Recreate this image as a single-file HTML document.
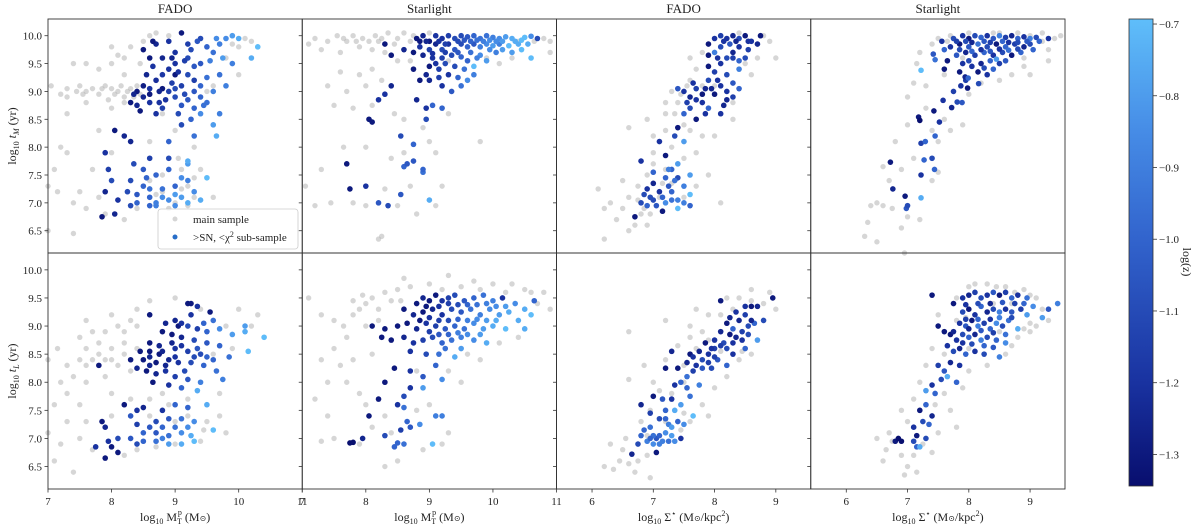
<!DOCTYPE html>
<html><head><meta charset="utf-8"><style>
body{margin:0;background:#fff;}
svg text{font-family:"Liberation Serif","DejaVu Serif",serif;fill:#222;}
</style></head><body>
<svg id="chart" width="1200" height="526" viewBox="0 0 1200 526" xmlns="http://www.w3.org/2000/svg" font-family="Liberation Serif, DejaVu Serif, serif">
<defs><linearGradient id="cbg" x1="0" y1="1" x2="0" y2="0">
<stop offset="0" stop-color="rgb(8,14,110)"/><stop offset="0.22" stop-color="rgb(25,50,160)"/><stop offset="0.53" stop-color="rgb(50,100,205)"/><stop offset="0.76" stop-color="rgb(70,140,230)"/><stop offset="1" stop-color="rgb(95,190,250)"/></linearGradient></defs>
<g id="panels"></g>
<g>
<rect x="1129" y="19" width="24" height="467" fill="url(#cbg)" stroke="#333" stroke-width="0.8"/>
<g id="cbticks"></g>
<text transform="translate(1183,262) rotate(90)" font-size="12" text-anchor="middle">log(z)</text>
</g>
</svg>
<script>
const colTitles=["FADO","Starlight","FADO","Starlight"];
const yTicks=[6.5,7.0,7.5,8.0,8.5,9.0,9.5,10.0];
const xTicksMass=[7,8,9,10,11];
const xTicksSigma=[6,7,8,9];
const cbTicks=[-0.7,-0.8,-0.9,-1.0,-1.1,-1.2,-1.3];

const p1Gray=[[7.05,9.1],[7.2,8.95],[7.3,9.05],[7.5,9.1],[7.6,9.0],[7.7,9.05],[7.8,8.95],[7.9,9.1],[8.0,9.05],[8.1,9.0],[8.2,8.9],[8.3,9.05],[8.4,9.1],[7.6,9.5],[7.8,9.4],[8.0,9.5],[8.2,9.6],[8.3,9.8],[8.5,9.9],[8.7,10.05],[8.0,9.8],[7.4,9.5],[7.3,8.6],[7.6,8.8],[8.0,8.7],[8.2,8.8],[7.2,8.0],[7.1,7.6],[7.0,7.3],[7.3,7.9],[7.5,7.2],[7.4,7.0],[7.6,6.9],[7.8,7.1],[7.9,6.8],[8.2,6.7],[8.4,6.9],[8.6,7.4],[8.8,7.2],[9.0,7.0],[9.2,7.3],[9.4,7.6],[9.6,7.1],[7.0,6.5],[7.4,6.45],[9.3,8.0],[9.0,8.3],[8.8,8.6],[9.8,9.6],[10.0,9.8],[10.2,9.9],[9.9,10.0],[10.0,9.3],[9.6,9.1],[7.15,7.2],[7.7,7.6],[8.0,7.9],[8.6,8.1],[9.1,7.6],[9.5,9.0],[8.2,9.3],[7.8,8.3],[7.3,8.9],[7.45,9.0],[7.55,8.95],[7.85,9.05],[8.05,8.95],[8.15,9.1],[8.25,9.0],[8.35,8.9],[7.95,8.85],[8.45,8.95],[8.45,9.5],[8.1,9.65],[8.6,10.0],[8.9,10.0],[9.9,9.85],[10.1,9.95],[9.2,6.95],[8.9,6.9],[9.3,7.1],[8.7,7.15],[9.1,7.25],[9.3,7.45],[8.8,7.5],[9.05,7.8]];
const p1Blue=[[8.5,9.75,-1.3],[8.7,9.85,-1.25],[8.6,9.6,-1.3],[8.4,9.0,-1.3],[8.5,9.1,-1.28],[8.3,8.8,-1.3],[8.4,8.75,-1.25],[8.6,8.8,-1.2],[8.6,9.05,-1.2],[8.7,9.2,-1.22],[8.8,9.3,-1.18],[8.9,9.4,-1.2],[9.0,9.5,-1.2],[8.9,9.0,-1.15],[9.0,8.9,-1.1],[8.8,8.7,-1.15],[8.7,8.6,-1.2],[8.5,8.9,-1.25],[9.1,9.1,-1.15],[9.2,9.3,-1.1],[9.3,9.0,-1.05],[9.4,8.9,-1.0],[9.1,8.75,-1.05],[9.3,8.7,-1.0],[9.5,8.8,-0.95],[9.6,9.0,-0.9],[9.5,9.25,-0.95],[9.4,9.5,-1.05],[9.2,9.6,-1.1],[9.0,9.7,-1.2],[9.2,9.85,-1.15],[9.4,9.95,-1.1],[9.5,9.8,-1.0],[9.6,9.7,-0.95],[9.7,9.85,-0.9],[9.8,9.95,-0.85],[9.9,10.0,-0.8],[10.0,9.95,-0.75],[10.3,9.8,-0.7],[10.2,9.6,-0.75],[9.9,9.5,-0.9],[9.7,9.3,-0.95],[9.8,9.1,-0.9],[9.1,10.05,-1.3],[8.95,9.6,-1.25],[9.0,9.3,-1.3],[8.8,9.05,-1.3],[9.3,9.2,-1.15],[9.25,8.5,-1.0],[9.3,8.2,-0.95],[9.1,8.4,-1.1],[9.6,8.4,-0.8],[9.4,8.6,-0.85],[9.65,8.2,-0.75],[9.7,8.6,-0.9],[8.9,8.1,-1.0],[8.05,8.3,-1.3],[8.2,8.2,-1.25],[8.3,8.1,-1.25],[7.9,7.9,-1.2],[7.95,7.6,-1.15],[8.0,7.4,-1.1],[7.9,7.2,-1.25],[8.1,7.05,-1.2],[7.85,6.75,-1.3],[8.05,6.8,-1.25],[8.3,6.95,-1.1],[8.4,7.0,-1.0],[8.6,7.1,-1.0],[8.7,7.0,-0.9],[8.9,7.05,-0.85],[9.1,7.1,-0.8],[9.2,7.0,-0.75],[9.4,7.05,-0.75],[8.8,7.25,-0.95],[9.0,7.3,-1.0],[9.2,7.4,-0.9],[9.5,7.45,-0.7],[8.5,7.6,-1.05],[8.7,7.5,-1.0],[8.9,7.6,-1.0],[8.6,7.8,-1.15],[8.9,7.8,-1.1],[9.2,7.7,-0.8],[8.3,7.4,-1.1],[8.5,7.3,-1.0],[9.3,7.2,-0.85],[9.0,6.95,-0.85],[8.6,6.95,-1.0],[9.2,7.75,-0.75],[8.55,9.3,-1.25],[8.65,9.45,-1.2],[8.75,9.0,-1.25],[8.85,8.85,-1.2],[8.95,9.15,-1.15],[9.05,9.35,-1.2],[9.15,9.55,-1.15],[9.25,9.75,-1.1],[9.35,9.9,-1.05],[9.15,8.95,-1.1],[9.2,8.85,-1.05],[9.4,9.1,-1.0],[9.45,8.75,-0.95],[9.55,9.55,-0.9],[9.65,9.95,-0.85],[9.75,9.6,-0.8],[8.45,8.65,-1.3],[8.35,8.95,-1.25],[8.6,8.95,-1.3],[8.75,8.8,-1.2],[9.0,9.05,-1.1],[8.8,9.6,-1.25],[8.65,9.9,-1.3],[8.9,9.9,-1.2],[9.3,9.45,-1.05],[9.05,8.6,-1.1],[8.4,7.15,-1.05],[8.6,7.25,-0.95],[8.8,7.1,-0.85],[9.0,7.15,-0.8],[8.7,6.95,-0.9],[8.25,7.2,-1.1],[8.55,7.45,-1.0],[8.35,7.7,-1.1],[9.1,7.45,-0.85]];
const p2Gray=[[7.2,9.95],[7.4,9.9],[7.55,10.0],[7.7,9.9],[7.8,10.0],[7.95,9.95],[8.05,9.9],[8.15,10.0],[8.25,9.95],[8.35,10.05],[8.5,9.95],[8.6,10.05],[8.7,9.9],[7.1,9.85],[7.3,9.75],[7.6,9.7],[7.9,9.8],[8.1,9.75],[8.3,9.7],[8.5,9.55],[8.7,9.55],[9.0,10.05],[9.6,9.55],[9.9,9.6],[10.4,9.9],[10.8,9.95],[10.9,9.9],[10.1,9.5],[7.6,9.35],[7.9,9.3],[8.1,9.4],[7.4,9.1],[7.7,9.0],[8.0,9.1],[8.25,9.2],[7.5,8.75],[7.8,8.7],[8.1,8.75],[8.45,8.6],[8.6,8.5],[8.9,8.35],[9.3,8.6],[9.8,8.1],[8.0,8.0],[7.3,7.6],[7.65,8.0],[8.4,7.8],[8.6,7.9],[9.1,7.9],[9.2,7.3],[9.1,6.95],[7.2,6.95],[7.45,7.0],[7.8,7.0],[8.0,6.95],[8.3,7.25],[8.5,6.95],[8.8,6.8],[8.2,6.35],[8.25,6.4],[7.05,7.3],[9.0,8.1],[8.7,7.3],[8.45,9.85],[8.75,10.0],[8.2,9.9],[7.85,9.9],[7.65,9.95],[10.65,9.9],[10.9,9.7],[9.3,9.55],[10.3,9.6]];
const p2Blue=[[8.8,9.95,-1.3],[8.9,10.0,-1.25],[9.0,9.9,-1.3],[9.1,10.0,-1.2],[9.2,9.95,-1.2],[9.3,10.0,-1.15],[9.4,9.95,-1.1],[9.5,10.0,-1.1],[9.6,9.98,-1.05],[9.7,10.0,-1.0],[9.8,9.95,-0.95],[9.9,10.0,-0.95],[10.0,9.97,-0.9],[10.1,9.95,-0.85],[10.2,9.98,-0.8],[10.3,9.95,-0.75],[10.5,9.97,-0.7],[10.6,9.99,-0.85],[10.7,9.95,-1.1],[8.85,9.8,-1.2],[9.0,9.75,-1.15],[9.1,9.85,-1.25],[9.2,9.75,-1.1],[9.3,9.85,-1.2],[9.4,9.75,-1.05],[9.5,9.85,-1.1],[9.6,9.8,-1.0],[9.7,9.85,-1.05],[9.8,9.8,-0.9],[9.9,9.85,-0.85],[10.0,9.82,-0.8],[10.1,9.85,-0.9],[10.25,9.82,-0.7],[10.4,9.85,-0.75],[8.9,9.65,-1.25],[9.05,9.6,-1.2],[9.2,9.6,-1.15],[9.35,9.65,-1.1],[9.5,9.62,-1.0],[9.65,9.7,-0.95],[9.8,9.65,-0.85],[10.05,9.7,-0.9],[10.3,9.7,-0.8],[10.6,9.6,-0.7],[9.0,9.45,-1.3],[9.15,9.4,-1.15],[9.4,9.45,-1.1],[9.55,9.4,-0.95],[9.7,9.45,-0.7],[9.9,9.55,-0.8],[9.3,9.3,-1.2],[9.45,9.25,-1.0],[9.7,9.3,-0.9],[8.75,9.4,-1.3],[8.85,9.2,-1.3],[9.0,9.2,-1.25],[9.2,9.1,-1.2],[9.35,9.0,-1.05],[9.5,9.1,-0.95],[8.3,9.85,-1.3],[8.4,9.65,-1.3],[8.6,9.75,-1.25],[8.4,9.1,-1.25],[8.3,8.95,-1.2],[8.2,8.85,-1.2],[9.2,8.7,-1.0],[8.8,8.85,-1.25],[8.95,8.7,-1.2],[9.05,8.75,-1.0],[8.95,8.5,-1.1],[8.05,8.5,-1.3],[8.1,8.45,-1.3],[8.55,8.2,-1.1],[8.75,8.05,-1.0],[8.75,7.75,-1.05],[8.6,7.65,-1.0],[8.65,7.7,-1.05],[8.9,7.55,-0.95],[8.9,7.6,-1.0],[7.7,7.7,-1.3],[7.75,7.25,-1.3],[8.0,7.3,-1.2],[8.2,7.0,-1.05],[8.35,6.95,-1.1],[8.55,7.15,-1.05],[9.0,7.05,-0.75],[8.95,9.9,-1.25],[9.15,9.9,-1.2],[9.25,9.85,-1.15],[9.45,9.9,-1.1],[9.55,9.92,-1.05],[9.65,9.9,-1.0],[9.75,9.92,-0.95],[9.85,9.9,-0.9],[9.95,9.92,-0.85],[10.05,9.9,-0.85],[10.15,9.9,-0.8],[10.35,9.9,-0.75],[10.45,9.92,-0.7],[9.05,9.68,-1.2],[9.25,9.7,-1.15],[9.45,9.7,-1.05],[9.6,9.55,-1.0],[9.75,9.6,-0.9],[9.95,9.75,-0.85],[10.15,9.75,-0.8],[10.45,9.75,-0.7],[9.1,9.5,-1.2],[9.25,9.5,-1.1],[8.95,9.3,-1.25],[9.15,9.25,-1.15],[9.6,9.2,-0.85],[8.75,9.7,-1.3],[8.85,9.9,-1.3],[10.55,9.85,-0.75]];
const p3Gray=[[6.2,6.35],[6.4,6.7],[6.5,6.9],[6.6,6.5],[6.7,6.6],[6.8,6.8],[6.9,6.6],[6.3,7.0],[6.6,7.1],[6.75,7.3],[6.9,7.5],[7.0,7.7],[7.2,7.6],[7.3,7.35],[7.1,7.1],[6.85,6.9],[7.5,7.8],[7.7,7.9],[7.8,8.2],[7.3,8.0],[7.0,8.2],[6.6,8.35],[6.9,8.5],[7.2,8.3],[7.5,8.4],[7.2,8.8],[7.4,8.8],[7.3,9.0],[7.6,9.2],[7.8,9.1],[7.6,8.3],[8.3,8.8],[8.6,9.3],[8.5,9.5],[8.7,9.6],[8.9,9.9],[8.8,10.0],[7.7,9.4],[7.8,9.7],[7.6,9.6],[8.0,9.1],[8.3,8.5],[8.0,8.2],[6.5,7.4],[6.2,6.9],[8.4,10.05],[9.0,9.6],[7.9,7.5],[8.1,7.0],[6.1,7.25],[7.45,8.95],[7.55,9.1],[7.35,8.6],[7.2,8.6],[7.0,7.9],[6.75,7.05],[6.95,6.8],[7.5,7.1],[7.7,7.3],[7.15,7.35]];
const p3Blue=[[7.9,9.85,-1.3],[8.0,9.95,-1.2],[8.1,10.0,-1.15],[8.2,9.95,-1.2],[8.3,10.0,-1.25],[8.4,9.95,-1.1],[8.5,10.0,-1.3],[8.6,9.9,-1.2],[8.75,10.0,-1.3],[8.1,9.8,-1.1],[8.25,9.85,-1.05],[8.4,9.8,-1.2],[8.55,9.75,-1.15],[8.3,9.7,-1.25],[8.0,9.7,-0.9],[8.2,9.6,-1.1],[8.4,9.55,-1.0],[8.1,9.5,-1.2],[7.9,9.45,-1.3],[7.9,9.65,-1.3],[8.0,9.35,-1.15],[8.2,9.3,-1.1],[8.4,9.4,-0.9],[8.3,9.15,-1.05],[8.1,9.1,-1.2],[7.9,9.2,-1.1],[7.7,9.05,-1.15],[7.5,9.0,-1.2],[7.4,9.05,-1.05],[7.6,8.9,-1.25],[7.8,8.95,-1.3],[8.0,8.95,-1.3],[7.95,9.05,-1.25],[8.2,9.0,-1.2],[8.4,9.05,-1.0],[7.8,8.8,-1.2],[7.6,8.7,-1.1],[7.9,8.7,-1.0],[8.1,8.6,-1.2],[7.7,8.5,-1.3],[7.5,8.6,-1.0],[8.2,8.85,-1.25],[7.35,8.2,-1.1],[7.5,8.1,-0.8],[7.4,8.35,-1.3],[7.1,8.1,-1.2],[7.2,7.85,-1.3],[7.3,7.6,-1.0],[7.4,7.7,-0.8],[7.2,7.45,-1.0],[7.4,7.45,-1.1],[7.6,7.5,-0.8],[7.5,7.3,-0.9],[7.1,7.2,-1.2],[7.3,7.2,-1.0],[7.0,7.35,-1.25],[6.9,7.25,-1.2],[7.0,7.05,-1.1],[7.2,7.0,-0.85],[7.4,7.05,-0.9],[6.9,6.95,-1.0],[6.8,7.0,-1.1],[7.05,6.95,-1.05],[7.15,6.85,-1.3],[6.7,6.75,-1.3],[7.6,6.95,-1.0],[7.4,6.9,-0.7],[7.6,7.15,-0.7],[6.8,7.75,-1.2],[7.0,7.55,-1.0],[8.15,9.9,-1.2],[8.35,9.9,-1.25],[8.55,9.9,-1.2],[8.7,9.85,-1.25],[8.3,9.6,-1.15],[8.5,9.6,-1.1],[8.05,9.6,-1.2],[7.85,9.05,-1.25],[8.05,9.2,-1.2],[7.7,8.85,-1.2],[7.55,8.8,-1.15],[8.15,8.75,-1.25],[7.85,8.6,-1.2],[8.3,8.9,-1.15],[7.65,9.15,-1.2],[7.25,7.3,-1.05],[7.15,7.1,-1.0],[6.95,7.1,-1.1],[7.3,7.05,-0.95],[7.5,7.0,-0.9],[7.35,7.4,-0.95],[7.25,7.6,-0.9],[6.85,7.15,-1.1]];
const p4Gray=[[7.5,9.95],[7.7,10.0],[8.0,10.05],[8.5,10.05],[9.0,10.0],[9.2,9.9],[9.4,9.95],[9.3,9.55],[8.9,9.45],[8.7,9.3],[8.5,9.2],[7.4,9.85],[7.2,9.7],[7.6,9.3],[7.3,9.1],[7.1,9.15],[7.0,8.9],[7.3,8.7],[7.6,8.5],[7.7,8.3],[7.9,8.4],[7.5,8.1],[7.4,8.3],[7.0,8.4],[7.1,7.8],[6.8,8.1],[6.9,7.6],[7.4,7.4],[7.5,7.55],[6.7,7.4],[6.5,7.0],[6.6,6.95],[6.35,6.65],[6.5,6.3],[6.9,6.55],[7.0,6.75],[7.2,6.7],[6.75,6.9],[6.4,6.95],[6.6,7.65],[7.15,9.5],[8.2,9.15],[8.0,8.95],[9.0,9.3],[7.9,9.6],[6.95,6.1],[6.3,6.4],[7.65,9.9],[8.4,10.05],[8.8,10.05],[9.2,10.05],[9.5,10.0],[9.3,9.75],[8.9,9.6]];
const p4Blue=[[7.75,9.95,-1.1],[7.9,10.0,-1.2],[8.0,9.95,-1.3],[8.1,10.0,-1.1],[8.2,9.97,-1.0],[8.3,10.0,-1.2],[8.4,9.95,-1.05],[8.5,10.0,-0.9],[8.6,9.97,-1.15],[8.7,10.0,-1.25],[8.8,9.95,-1.0],[8.9,9.98,-1.2],[9.0,9.95,-0.9],[9.1,9.97,-1.1],[9.3,9.95,-1.2],[7.7,9.8,-1.2],[7.85,9.85,-1.3],[8.0,9.8,-1.05],[8.15,9.85,-0.95],[8.3,9.8,-1.1],[8.45,9.85,-1.3],[8.6,9.8,-1.0],[8.75,9.85,-1.15],[8.9,9.8,-1.25],[9.0,9.85,-1.1],[7.8,9.65,-1.05],[7.95,9.7,-1.25],[8.1,9.65,-1.15],[8.25,9.7,-1.0],[8.4,9.65,-1.2],[8.55,9.7,-1.1],[8.7,9.65,-1.3],[8.85,9.7,-1.0],[7.6,9.75,-1.0],[7.65,9.55,-1.3],[7.9,9.5,-1.2],[8.0,9.55,-1.1],[8.2,9.5,-1.25],[8.35,9.55,-1.0],[8.5,9.5,-1.15],[8.15,9.35,-1.3],[8.3,9.3,-1.2],[8.4,9.4,-1.0],[7.85,9.35,-1.3],[7.95,9.2,-1.15],[7.58,8.84,-1.2],[7.72,8.71,-1.25],[7.81,8.81,-1.1],[7.89,8.8,-1.05],[7.75,9.0,-1.15],[7.87,9.1,-1.2],[7.98,9.06,-1.3],[7.94,9.26,-1.25],[7.99,9.24,-1.0],[8.16,9.14,-1.1],[7.6,9.4,-1.3],[7.42,9.67,-1.05],[7.45,9.57,-0.95],[7.56,9.9,-1.2],[7.22,9.38,-0.7],[7.43,8.65,-1.3],[7.52,8.45,-1.2],[7.18,8.54,-1.3],[7.2,8.48,-1.34],[7.45,8.2,-1.0],[7.22,8.07,-1.15],[7.29,8.1,-1.0],[7.27,7.77,-1.0],[7.4,7.8,-1.1],[7.22,7.5,-1.2],[7.44,7.6,-1.0],[6.72,7.73,-1.3],[6.76,7.25,-1.25],[6.96,7.12,-1.3],[7.22,7.09,-0.75],[6.98,6.9,-1.05],[7.0,6.95,-1.1],[7.8,9.9,-1.15],[7.95,9.9,-1.1],[8.05,9.88,-1.25],[8.25,9.9,-1.05],[8.35,9.88,-1.15],[8.55,9.9,-1.0],[8.65,9.88,-1.2],[8.8,9.88,-1.1],[8.95,9.9,-1.05],[9.15,9.9,-1.0],[7.85,9.75,-1.1],[8.05,9.72,-1.0],[8.2,9.75,-1.2],[8.35,9.72,-1.05],[8.5,9.76,-1.2],[8.65,9.74,-0.95],[8.8,9.76,-1.1],[9.05,9.75,-1.0],[8.05,9.45,-1.2],[8.25,9.42,-1.1],[8.45,9.58,-0.8],[8.6,9.55,-1.05]];
const p5Gray=[[7.0,7.1],[7.1,6.6],[7.2,6.9],[7.3,7.3],[7.1,7.6],[7.3,7.8],[7.5,7.6],[7.2,8.0],[7.4,8.1],[7.6,8.0],[7.3,8.3],[7.5,8.4],[7.7,8.4],[7.9,8.4],[7.6,8.6],[7.8,8.7],[8.0,8.6],[7.5,8.8],[7.7,8.9],[7.9,8.9],[8.1,9.0],[8.2,8.9],[8.3,9.1],[7.6,9.1],[8.0,9.2],[8.4,9.3],[8.6,9.45],[9.0,9.5],[9.4,9.3],[9.8,9.0],[10.0,9.3],[10.2,9.0],[10.3,9.2],[9.9,8.6],[9.6,8.5],[8.2,8.5],[8.3,8.2],[8.1,8.3],[7.9,8.1],[8.0,7.8],[8.3,7.7],[8.6,7.7],[9.2,7.7],[9.5,7.3],[9.7,7.4],[9.4,6.95],[9.0,6.9],[8.7,6.85],[8.4,6.8],[8.2,6.7],[7.7,6.8],[7.5,7.0],[7.4,6.4],[7.6,7.3],[8.0,7.4],[9.8,7.1],[7.15,8.6],[7.0,8.4],[9.7,7.8],[8.8,7.8],[8.0,8.4],[8.2,8.7],[7.8,8.5],[8.4,8.6],[8.4,9.0],[7.6,8.3],[8.9,7.6],[9.2,7.4],[8.6,7.4],[9.0,7.3],[9.45,7.15]];
const p5Blue=[[9.2,9.4,-1.3],[9.25,9.4,-1.3],[9.35,9.35,-1.2],[9.55,9.25,-1.3],[8.6,9.2,-1.3],[9.0,9.1,-1.25],[9.05,9.0,-1.3],[9.1,9.05,-1.2],[9.2,9.0,-1.1],[9.35,8.95,-1.15],[9.5,8.9,-1.0],[9.7,8.95,-0.85],[9.9,8.85,-0.8],[10.1,8.9,-0.75],[10.4,8.8,-0.7],[10.15,8.55,-0.7],[8.8,8.9,-1.3],[8.95,8.85,-1.3],[9.1,8.8,-1.25],[9.3,8.75,-1.1],[9.5,8.7,-1.05],[9.7,8.65,-1.0],[9.85,8.45,-0.95],[8.6,8.7,-1.3],[8.75,8.65,-1.25],[9.0,8.6,-1.2],[9.2,8.55,-1.15],[9.4,8.5,-1.1],[9.6,8.4,-1.0],[8.5,8.4,-1.3],[8.6,8.45,-1.25],[8.75,8.5,-1.3],[8.9,8.4,-1.25],[9.05,8.35,-1.2],[9.25,8.35,-1.1],[9.45,8.3,-1.0],[9.65,8.2,-0.95],[8.4,8.25,-1.25],[8.55,8.2,-1.3],[8.7,8.15,-1.25],[8.85,8.2,-1.2],[9.0,8.1,-1.15],[9.2,8.05,-1.05],[9.4,8.0,-0.9],[8.65,8.0,-1.3],[8.9,7.95,-1.2],[9.1,7.9,-1.0],[9.35,7.85,-0.75],[9.5,7.6,-0.75],[7.8,8.3,-1.3],[8.3,8.4,-1.3],[9.75,8.05,-0.9],[9.6,9.1,-0.95],[10.1,9.0,-0.8],[8.2,7.6,-1.3],[8.4,7.5,-1.2],[8.5,7.55,-1.25],[8.8,7.5,-1.2],[9.0,7.6,-1.0],[9.2,7.55,-1.0],[8.7,7.3,-1.1],[8.9,7.35,-1.05],[9.1,7.35,-0.95],[9.3,7.3,-0.85],[9.6,7.15,-0.7],[7.85,7.3,-1.3],[7.9,7.2,-1.25],[8.4,7.25,-1.15],[8.5,7.1,-1.0],[8.7,7.1,-1.05],[8.9,7.05,-0.95],[9.1,7.1,-0.85],[9.25,7.05,-0.75],[7.95,6.95,-1.2],[8.1,7.0,-1.1],[8.3,7.0,-1.05],[8.5,6.95,-1.0],[8.7,6.95,-0.95],[8.9,6.9,-0.8],[9.1,6.9,-0.75],[7.9,6.65,-1.3],[8.1,6.75,-1.3],[7.75,6.85,-1.2],[8.0,6.85,-1.3],[9.3,6.95,-0.7],[8.3,7.4,-1.05],[8.7,8.35,-1.3],[8.8,8.55,-1.25],[8.85,8.3,-1.25],[9.0,8.45,-1.2],[9.1,8.65,-1.2],[9.15,8.2,-1.1],[9.3,8.45,-1.1],[8.95,8.7,-1.25],[9.35,8.6,-1.05],[9.5,8.45,-1.0],[8.6,8.55,-1.3],[8.45,8.55,-1.3],[8.6,8.3,-1.25],[9.25,9.2,-1.2],[9.45,9.05,-1.0],[8.85,9.05,-1.25],[9.0,7.2,-0.95],[8.6,7.2,-1.05],[8.8,7.2,-1.0],[8.4,6.9,-1.1],[9.2,7.2,-0.85],[8.8,7.0,-0.9]];
const p6Gray=[[7.1,9.5],[7.3,9.2],[7.5,9.1],[7.65,9.0],[7.8,9.2],[7.9,9.3],[8.0,9.4],[8.1,9.5],[8.3,9.6],[8.5,9.65],[8.7,9.7],[9.0,9.75],[9.5,9.7],[9.8,9.65],[10.2,9.6],[10.5,9.65],[10.8,9.6],[10.9,9.3],[10.6,9.6],[8.2,9.3],[8.4,9.45],[8.0,9.0],[7.7,8.8],[7.5,8.6],[7.3,8.4],[7.6,8.3],[7.8,8.4],[8.1,8.5],[7.4,8.0],[7.7,8.0],[7.9,7.8],[7.2,7.7],[7.4,7.4],[8.0,7.6],[8.3,7.4],[8.1,7.2],[8.4,7.1],[8.8,7.5],[9.0,7.6],[9.3,7.1],[9.2,6.9],[8.9,6.8],[8.5,6.6],[8.3,6.5],[7.9,6.9],[7.5,7.0],[7.3,6.95],[9.5,8.0],[9.8,8.4],[10.1,8.7],[10.4,8.8],[9.6,8.5],[8.6,9.85],[9.3,9.9],[10.0,9.75],[7.95,9.55],[8.8,8.2],[9.3,8.2],[9.2,9.65],[9.7,9.8],[10.3,9.75],[10.7,9.4],[8.55,9.45],[8.2,9.1],[7.8,9.45]];
const p6Blue=[[8.8,9.4,-1.3],[8.9,9.5,-1.25],[9.0,9.45,-1.3],[9.1,9.55,-1.3],[9.2,9.45,-1.2],[9.3,9.5,-1.15],[9.4,9.55,-1.1],[9.55,9.45,-1.05],[9.7,9.5,-1.0],[9.85,9.55,-0.95],[10.0,9.45,-0.9],[10.15,9.5,-1.2],[10.35,9.4,-0.85],[10.5,9.3,-0.75],[10.6,9.2,-0.7],[10.65,9.45,-1.0],[8.6,9.3,-1.3],[8.75,9.2,-1.25],[8.9,9.25,-1.3],[9.05,9.3,-1.25],[9.2,9.2,-1.2],[9.35,9.3,-1.1],[9.5,9.25,-1.05],[9.65,9.3,-0.95],[9.8,9.2,-0.9],[9.95,9.3,-0.85],[10.1,9.2,-0.8],[10.25,9.25,-0.75],[10.4,9.1,-0.75],[10.5,8.95,-0.75],[8.5,9.0,-1.3],[8.65,9.05,-1.3],[8.8,8.95,-1.25],[8.95,9.05,-1.2],[9.1,9.0,-1.15],[9.25,8.95,-1.05],[9.4,9.0,-1.0],[9.55,8.95,-0.95],[9.7,9.05,-0.85],[9.85,8.95,-0.8],[10.0,9.0,-0.75],[10.2,8.95,-0.7],[8.4,8.75,-1.3],[8.6,8.8,-1.25],[8.75,8.7,-1.2],[8.9,8.75,-1.15],[9.05,8.8,-1.1],[9.2,8.7,-1.0],[9.35,8.75,-0.95],[9.5,8.8,-0.9],[9.7,8.75,-0.85],[9.9,8.7,-0.75],[8.3,8.95,-1.3],[8.1,9.0,-1.3],[8.25,8.8,-1.3],[8.7,8.55,-1.2],[8.95,8.5,-1.1],[9.15,8.5,-0.95],[9.4,8.45,-0.75],[9.1,8.3,-1.0],[8.45,8.25,-1.3],[8.7,8.2,-1.2],[8.9,8.1,-1.05],[8.3,8.0,-1.3],[8.7,7.9,-1.2],[8.9,7.9,-0.8],[9.2,8.05,-0.85],[8.6,7.75,-1.1],[8.5,7.6,-1.2],[8.2,7.7,-1.3],[8.05,7.4,-1.3],[8.6,7.55,-0.95],[8.65,7.3,-1.0],[8.85,7.25,-0.85],[7.95,7.0,-1.25],[8.3,7.05,-1.1],[8.55,7.15,-1.15],[8.5,6.92,-1.0],[8.7,7.2,-1.05],[8.45,6.85,-1.0],[8.6,6.9,-0.95],[7.75,6.92,-1.34],[7.8,6.93,-1.34],[9.05,6.9,-0.7],[9.1,7.4,-0.9],[9.2,7.4,-0.9],[8.95,9.35,-1.3],[9.15,9.35,-1.2],[9.3,9.4,-1.15],[9.45,9.38,-1.1],[9.6,9.38,-1.0],[9.75,9.38,-0.95],[9.9,9.4,-0.9],[10.05,9.35,-0.85],[10.2,9.35,-0.8],[8.85,9.1,-1.3],[9.0,9.15,-1.2],[9.15,9.1,-1.15],[9.3,9.1,-1.1],[9.45,9.12,-1.0],[9.6,9.1,-0.9],[9.75,9.12,-0.85],[9.9,9.1,-0.8],[10.05,9.1,-0.75],[9.0,8.9,-1.15],[9.15,8.85,-1.05],[9.3,8.85,-1.0],[9.45,8.88,-0.9],[9.6,8.85,-0.85],[9.8,8.85,-0.8],[9.25,8.6,-0.95],[9.5,8.6,-0.8]];
const p7Gray=[[6.2,6.5],[6.35,6.45],[6.45,6.6],[6.5,6.8],[6.6,6.55],[6.7,6.4],[6.3,6.9],[6.55,7.0],[6.75,6.6],[6.9,6.7],[6.8,7.3],[6.95,7.5],[7.1,7.85],[7.0,8.0],[7.3,7.8],[6.6,8.05],[6.85,8.3],[7.2,8.4],[7.4,8.65],[7.6,8.8],[7.8,8.9],[7.6,9.0],[7.2,9.1],[6.6,8.9],[7.9,9.2],[8.2,9.5],[8.6,9.65],[8.9,9.6],[9.0,9.3],[8.8,9.4],[8.6,8.5],[8.4,8.4],[8.2,8.1],[8.0,7.9],[7.8,7.6],[7.6,7.3],[7.9,7.4],[7.45,7.15],[8.6,9.45],[8.4,9.5],[8.1,8.55],[7.7,9.3],[7.5,8.3],[6.95,6.3],[7.1,6.9],[7.7,8.6],[7.9,8.75],[8.1,9.2],[8.3,9.3],[8.45,8.55],[7.5,8.0],[7.2,7.3],[7.5,7.45],[6.9,7.05]];
const p7Blue=[[6.65,6.72,-1.25],[6.75,6.9,-1.1],[6.8,7.05,-1.0],[6.9,6.95,-0.9],[7.0,6.9,-0.85],[7.05,7.0,-1.05],[7.1,7.05,-1.0],[7.15,6.95,-0.9],[7.2,7.1,-0.85],[6.85,7.15,-1.0],[6.95,7.2,-0.95],[7.05,6.75,-1.3],[7.3,7.05,-0.8],[7.35,6.95,-0.85],[7.45,7.0,-1.2],[7.25,7.25,-0.9],[7.4,7.3,-1.0],[7.5,7.25,-0.85],[7.1,7.35,-1.1],[7.2,7.5,-1.0],[7.35,7.5,-0.75],[7.45,7.6,-0.8],[7.15,7.7,-1.05],[7.3,7.7,-1.2],[6.8,7.6,-1.25],[7.0,7.75,-1.3],[6.95,7.45,-1.15],[7.65,7.4,-0.7],[7.35,7.95,-1.2],[7.45,8.0,-1.0],[7.55,8.1,-0.95],[7.65,8.2,-1.15],[7.4,8.25,-1.3],[7.55,8.35,-1.25],[7.7,8.3,-1.2],[7.8,8.4,-1.1],[7.6,8.5,-1.3],[7.75,8.55,-1.25],[7.9,8.5,-1.2],[8.0,8.6,-1.15],[7.85,8.7,-1.3],[8.0,8.75,-1.2],[8.15,8.7,-1.1],[8.1,8.9,-1.25],[8.25,8.85,-1.3],[8.3,8.95,-1.0],[8.4,9.1,-1.25],[8.5,9.2,-1.15],[8.55,9.0,-1.1],[8.2,9.05,-1.3],[8.35,9.25,-1.2],[8.6,9.35,-1.3],[8.7,9.35,-1.25],[8.45,8.75,-1.2],[8.65,9.05,-1.0],[8.7,8.75,-0.8],[8.5,8.6,-1.0],[8.05,8.4,-1.05],[8.3,8.5,-1.2],[7.95,8.25,-1.1],[7.2,8.25,-1.3],[7.3,8.55,-1.25],[8.1,9.45,-1.3],[8.95,9.5,-1.3],[8.8,9.1,-1.1],[8.2,8.3,-1.0],[7.6,7.75,-0.95],[7.75,7.95,-0.9],[7.95,8.6,-1.2],[8.1,8.65,-1.15],[8.2,8.6,-1.1],[8.3,8.7,-1.2],[8.35,8.8,-1.25],[8.45,8.9,-1.15],[8.55,8.85,-1.1],[8.6,9.1,-1.25],[8.5,9.35,-1.2],[8.25,9.15,-1.25],[8.0,8.45,-1.15],[7.8,8.25,-1.05],[7.9,8.35,-1.15],[7.65,8.45,-1.2],[7.55,7.9,-1.0],[7.0,7.05,-0.95],[7.1,6.9,-0.9],[7.25,6.95,-0.95],[6.95,7.0,-1.0],[7.2,7.35,-1.0],[7.3,7.2,-0.8]];
const p8Gray=[[6.5,7.0],[6.65,6.8],[6.75,6.95],[6.9,6.7],[6.7,7.1],[6.6,6.6],[7.0,6.5],[7.1,6.7],[7.25,6.9],[7.4,6.75],[7.5,7.1],[7.45,7.6],[7.6,7.8],[7.0,7.3],[6.9,7.5],[7.1,7.7],[7.2,8.0],[7.3,8.3],[7.6,8.5],[7.4,8.6],[7.5,9.2],[7.8,9.1],[8.0,9.7],[8.3,9.75],[8.6,9.7],[8.9,9.65],[9.1,9.5],[9.2,9.3],[9.0,9.05],[8.8,8.8],[8.6,8.5],[8.3,8.3],[8.0,8.2],[7.9,7.9],[7.7,7.5],[8.0,8.6],[8.7,9.4],[8.4,9.4],[7.8,9.5],[7.95,9.15],[8.5,8.9],[9.0,8.9],[7.15,6.4],[6.95,6.35],[7.8,7.2],[8.1,9.75],[8.45,9.7],[8.75,9.6],[9.0,9.55],[9.3,9.1],[9.1,9.0],[8.9,8.95],[8.7,8.65]];
const p8Blue=[[7.75,9.4,-1.3],[7.9,9.5,-1.2],[8.0,9.55,-1.25],[8.1,9.6,-1.15],[8.2,9.5,-1.1],[8.3,9.55,-1.2],[8.4,9.6,-1.05],[8.5,9.55,-1.3],[8.6,9.6,-1.15],[8.7,9.5,-1.0],[8.8,9.55,-1.2],[8.95,9.5,-0.95],[9.3,9.3,-1.05],[9.05,9.35,-0.85],[7.9,9.25,-1.1],[8.0,9.3,-1.3],[8.1,9.2,-1.2],[8.2,9.35,-1.0],[8.3,9.25,-1.25],[8.4,9.3,-1.1],[8.5,9.25,-0.9],[8.6,9.3,-1.2],[8.7,9.25,-1.05],[8.85,9.3,-1.15],[8.95,9.2,-0.8],[7.85,9.05,-1.2],[7.95,9.0,-1.05],[8.05,9.1,-1.3],[8.15,9.0,-0.9],[8.25,9.05,-1.15],[8.35,8.95,-1.0],[8.45,9.05,-0.85],[8.55,9.0,-1.1],[8.65,9.1,-0.95],[8.8,8.95,-0.75],[7.7,8.85,-1.3],[7.8,8.75,-1.2],[7.9,8.85,-1.1],[8.0,8.8,-1.0],[8.1,8.85,-1.25],[8.2,8.75,-0.9],[8.3,8.8,-1.1],[8.45,8.75,-1.0],[8.6,8.7,-0.85],[7.6,8.9,-1.3],[7.65,8.65,-1.2],[7.75,8.55,-1.1],[7.85,8.6,-1.25],[7.95,8.5,-1.0],[8.1,8.55,-1.2],[8.25,8.5,-1.1],[7.7,8.35,-1.25],[7.85,8.3,-1.2],[7.6,8.2,-1.05],[7.5,8.3,-1.15],[7.55,8.05,-1.1],[7.65,8.1,-0.75],[7.8,8.0,-1.0],[7.4,7.95,-1.2],[7.45,7.8,-1.0],[7.3,7.85,-0.8],[7.3,7.6,-1.0],[7.4,7.4,-1.25],[7.2,7.5,-1.3],[7.25,7.3,-1.1],[7.35,7.25,-1.0],[7.15,7.05,-1.3],[7.1,7.2,-1.2],[7.3,7.0,-1.1],[7.15,6.85,-1.0],[6.8,6.95,-1.3],[6.85,7.0,-1.34],[6.9,6.95,-1.34],[7.1,6.95,-1.1],[7.2,6.85,-0.75],[7.4,9.55,-1.3],[7.5,9.0,-1.3],[9.45,9.4,-0.9],[9.2,9.15,-0.8],[7.95,9.38,-1.2],[8.15,9.4,-1.1],[8.35,9.4,-1.25],[8.55,9.42,-1.05],[8.75,9.4,-1.15],[8.9,9.4,-1.0],[7.95,9.12,-1.15],[8.15,9.12,-1.0],[8.35,9.12,-1.2],[8.5,9.15,-0.9],[8.7,9.15,-1.1],[8.0,8.95,-1.25],[8.2,8.92,-1.05],[8.4,8.88,-1.15],[8.6,8.85,-0.95],[7.9,8.7,-1.2],[8.05,8.68,-1.1],[8.25,8.65,-1.0],[8.4,8.62,-1.05],[7.75,8.9,-1.25],[8.5,8.45,-0.9]];

const NS="http://www.w3.org/2000/svg";
const root=document.getElementById('panels');
function mk(tag,attrs,parent){const e=document.createElementNS(NS,tag);for(const k in attrs)e.setAttribute(k,attrs[k]);parent.appendChild(e);return e;}
const stops=[[-1.344,[8,14,110]],[-1.2,[25,50,160]],[-1.0,[50,100,205]],[-0.85,[70,140,230]],[-0.693,[95,190,250]]];
function cmap(c){if(c<=stops[0][0])return 'rgb('+stops[0][1]+')';for(let i=1;i<stops.length;i++){if(c<=stops[i][0]){const t=(c-stops[i-1][0])/(stops[i][0]-stops[i-1][0]);const a=stops[i-1][1],b=stops[i][1];return 'rgb('+a.map((v,j)=>Math.round(v+(b[j]-v)*t)).join(',')+')';}}return 'rgb('+stops[stops.length-1][1]+')';}

const colX=[48,302.25,556.5,810.75,1065];
const rowY=[[19,253],[253,489]];
const Y0=6.1,Y1=10.3;
const xDom=[[7,11],[7,11],[5.42,9.57],[5.42,9.57]];
const panels=[[p1Gray,p1Blue],[p2Gray,p2Blue],[p3Gray,p3Blue],[p4Gray,p4Blue],[p5Gray,p5Blue],[p6Gray,p6Blue],[p7Gray,p7Blue],[p8Gray,p8Blue]];

for(let r=0;r<2;r++)for(let c=0;c<4;c++){
  const L=colX[c],R=colX[c+1],T=rowY[r][0],B=rowY[r][1];
  const xs=v=>L+(v-xDom[c][0])/(xDom[c][1]-xDom[c][0])*(R-L);
  const ys=v=>B-(v-Y0)/(Y1-Y0)*(B-T);
  const g=mk('g',{},root);
  
  
  const [gray,blue]=panels[r*4+c];
  for(const p of gray){const e=mk('circle',{cx:xs(p[0]),cy:ys(p[1]),r:2.7,fill:'rgb(180,180,180)','fill-opacity':0.55},g);
    
    }
  for(const p of blue){const e=mk('circle',{cx:xs(p[0]),cy:ys(p[1]),r:2.8,fill:cmap(p[2])},g);
    
    }
  const fr=mk('rect',{x:L,y:T,width:R-L,height:B-T,fill:'none',stroke:'#333','stroke-width':0.9},g);
  
  
  for(const t of yTicks){mk('line',{x1:L-3.5,x2:L,y1:ys(t),y2:ys(t),stroke:'#333','stroke-width':0.8},g);
    if(c===0){const tx=mk('text',{x:L-6,y:ys(t)+4,'font-size':11,'text-anchor':'end'},g);tx.textContent=t.toFixed(1);
      
      }}
  if(r===1){const ticks=c<2?xTicksMass:xTicksSigma;
    for(const t of ticks){mk('line',{x1:xs(t),x2:xs(t),y1:B,y2:B+3.5,stroke:'#333','stroke-width':0.8},g);
      const tx=mk('text',{x:xs(t),y:B+16,'font-size':11,'text-anchor':'middle'},g);tx.textContent=t;
      
      }
    const xl=mk('text',{x:(L+R)/2,y:521,'font-size':12,'text-anchor':'middle'},g);
    
    
    if(c<2) xl.innerHTML='log<tspan font-size="8" dy="3">10</tspan><tspan dy="-3"> M</tspan><tspan font-size="8" dy="3">T</tspan><tspan font-size="8" dy="-9" dx="-4">p</tspan><tspan dy="6"> (M</tspan><tspan font-size="8">⊙</tspan><tspan>)</tspan>';
    else xl.innerHTML='log<tspan font-size="8" dy="3">10</tspan><tspan dy="-3"> Σ</tspan><tspan font-size="8" dy="-5">⋆</tspan><tspan dy="5"> (M</tspan><tspan font-size="8">⊙</tspan><tspan>/kpc</tspan><tspan font-size="8" dy="-5">2</tspan><tspan dy="5">)</tspan>';
  }
  if(r===0){const tt=mk('text',{x:(L+R)/2,y:13,'font-size':13,'text-anchor':'middle'},g);tt.textContent=colTitles[c];
    
    }
  if(c===0){const yl=mk('text',{transform:'translate(16,'+((T+B)/2)+') rotate(-90)','font-size':12,'text-anchor':'middle'},g);
    yl.innerHTML='log<tspan font-size="8" dy="3">10</tspan><tspan dy="-3" font-style="italic"> t</tspan><tspan font-size="8" dy="3" font-style="italic">'+(r===0?'M':'L')+'</tspan><tspan dy="-3"> (yr)</tspan>';
    
    }
}
const lg=mk('g',{},root);


mk('rect',{x:158,y:209,width:140,height:40,rx:3,fill:'#fff','fill-opacity':0.85,stroke:'#ccc','stroke-width':0.8},lg);
mk('circle',{cx:175,cy:219,r:2.5,fill:'rgb(185,185,185)','fill-opacity':0.6},lg);
const l1=mk('text',{x:193,y:223,'font-size':11},lg);l1.textContent='main sample';


mk('circle',{cx:175,cy:237,r:2.5,fill:'rgb(40,110,200)'},lg);
const l2=mk('text',{x:193,y:241,'font-size':11},lg);l2.innerHTML='&gt;SN, &lt;χ<tspan font-size="8" dy="-4">2</tspan><tspan dy="4"> sub-sample</tspan>';


const cbt=document.getElementById('cbticks');
const cy=v=>486-(v-(-1.344))/((-0.693)-(-1.344))*467;
for(const t of cbTicks){mk('line',{x1:1153,x2:1157,y1:cy(t),y2:cy(t),stroke:'#333','stroke-width':0.8},cbt);
  const tx=mk('text',{x:1159,y:cy(t)+4,'font-size':11},cbt);tx.textContent='−'+Math.abs(t).toFixed(1);
  
  }
</script>
</body></html>
